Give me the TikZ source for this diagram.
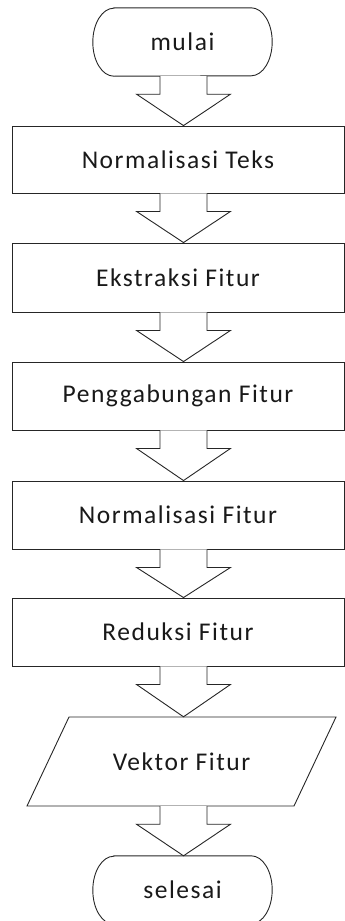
\documentclass[tikz,border=0pt]{standalone}
\usepackage{fontspec}
\setmainfont{Carlito}[LetterSpace=6]
\usetikzlibrary{calc}

\tikzset{
  outline/.style={draw=black!85, line width=0.9pt},
  label/.style={font=\fontsize{25.5}{28}\selectfont, text=black!90},
  terminal/.style={label, rectangle, minimum width=179pt,
    minimum height=68pt, inner sep=0pt},
  process/.style={outline, fill=white, label, rectangle,
    minimum width=332pt, minimum height=68pt, inner sep=0pt},
  iodata/.style={label, rectangle, minimum width=267pt,
    minimum height=89pt, inner sep=0pt},
  blockarrow/.style={draw=black!85, line width=0.9pt, fill=white, line join=miter}
}

% start/end symbol: straight top and bottom, half-ellipse ends
% (offsets and radii in pt, i.e. in canvas directions)
\newcommand{\terminaloutline}[1]{%
  \draw[outline] ($(#1.north west)+(21pt,0pt)$) -- ($(#1.north east)+(-21pt,0pt)$)
    arc[start angle=90, end angle=-90, x radius=21pt, y radius=34pt]
    -- ($(#1.south west)+(21pt,0pt)$)
    arc[start angle=270, end angle=90, x radius=21pt, y radius=34pt] -- cycle;
}

% hollow block arrow from the bottom of #1 to the top of #2, along the spine
\newcommand{\flowarrow}[2]{%
  \path let \p1 = (#1.south), \p2 = (#2.north), \p0 = (spine) in
    coordinate (s) at (\x0, \y1) coordinate (t) at (\x0, \y2);
  \draw[blockarrow] ($(s)+(-23.5pt,0pt)$) -- ($(s)+(-23.5pt,-18pt)$)
    -- ($(s)+(-47pt,-18pt)$) -- (t) -- ($(s)+(47pt,-18pt)$)
    -- ($(s)+(23.5pt,-18pt)$) -- ($(s)+(23.5pt,0pt)$);
}

\begin{document}
\begin{tikzpicture}[x=1pt, y=-1pt]
  \useasboundingbox (0,0) rectangle (345,921);
  \coordinate (spine) at (183.5,0);

  \node[terminal] (start) at (182.5,42) {mulai};
  \terminaloutline{start}
  \node[process, minimum height=67pt] (norm) at (178,159.5) {Normalisasi Teks};
  \node[process, minimum height=69pt] (extract) at (178,277.5) {Ekstraksi Fitur};
  \node[process] (merge) at (178,396) {Penggabungan Fitur};
  \node[process] (scale) at (178,515) {Normalisasi Fitur};
  \node[process] (reduce) at (178,632) {Reduksi Fitur};

  % data symbol: parallelogram leaning right around the label box
  \draw[outline] (181.5-112.5,717) -- (181.5+154.5,717) -- (181.5+112.5,806)
    -- (181.5-154.5,806) -- cycle;
  \node[iodata] (vector) at (181.5,761.5) {Vektor Fitur};

  \node[terminal] (finish) at (182.5,890) {selesai};
  \terminaloutline{finish}

  \flowarrow{start}{norm}
  \flowarrow{norm}{extract}
  \flowarrow{extract}{merge}
  \flowarrow{merge}{scale}
  \flowarrow{scale}{reduce}
  \flowarrow{reduce}{vector}
  \flowarrow{vector}{finish}
\end{tikzpicture}
\end{document}
